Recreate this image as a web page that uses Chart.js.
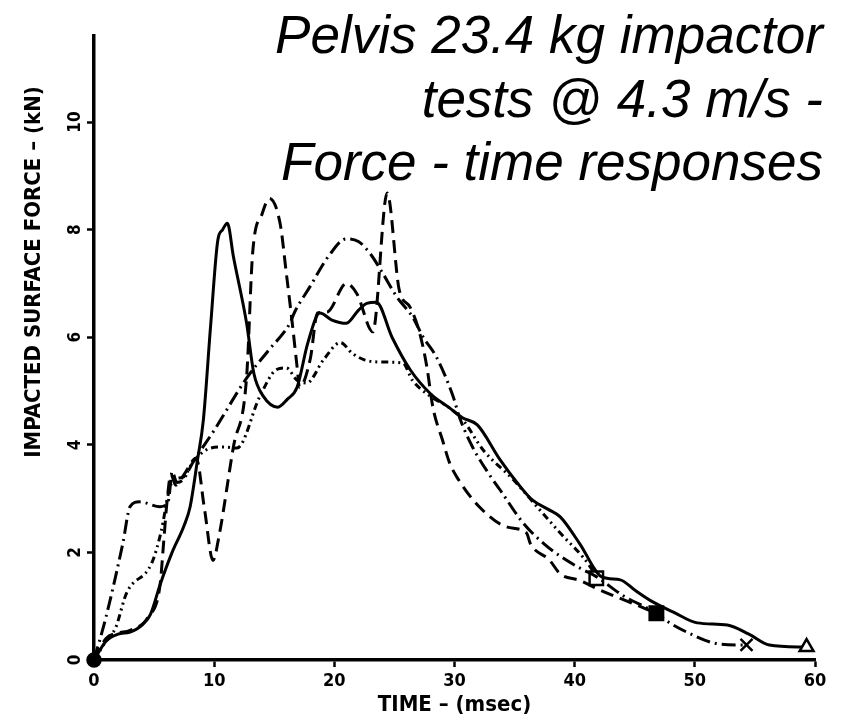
<!DOCTYPE html>
<html>
<head>
<meta charset="utf-8">
<script src="https://cdn.jsdelivr.net/npm/chart.js@4.4.1/dist/chart.umd.min.js"></script>
<style>
  html, body { margin: 0; padding: 0; background: #fff; }
  #wrap { position: relative; width: 841px; height: 720px; }
</style>
</head>
<body>
<div id="wrap"><canvas id="chart"></canvas></div>
<script>
// Force (kN) against time (msec) as [time, force]
const solidTest = [[0,0],[1,0.35],[2,0.48],[3,0.52],[4,0.65],[4.7,0.85],[5.5,1.4],[6.5,2.0],[7.5,2.5],[8,2.85],[8.6,3.7],[9.1,4.46],[9.7,6.2],[10.3,7.8],[10.7,8.0],[11.1,8.12],[11.6,7.5],[12.7,6.26],[13.3,5.33],[14.1,4.9],[15.3,4.7],[16.1,4.85],[16.9,5.07],[17.8,5.9],[18.8,6.45],[19.8,6.32],[21,6.26],[22,6.5],[22.7,6.63],[23.5,6.65],[24.8,6.0],[26.3,5.4],[28,4.95],[29.5,4.7],[30.7,4.5],[31.9,4.37],[33.8,3.72],[35.2,3.3],[36.5,2.97],[37.8,2.8],[38.8,2.66],[40.4,2.17],[42.3,1.54],[43.8,1.49],[45,1.3],[46.5,1.08],[48.3,0.88],[50.2,0.69],[52.7,0.65],[54.5,0.48],[56.2,0.28],[59.3,0.24]];
const dashTest = [[0,0],[1,0.4],[2,0.5],[3,0.55],[4.5,0.8],[5.5,1.4],[5.8,2.2],[6.1,3.0],[6.4,3.45],[6.8,3.25],[7.5,3.45],[8.5,3.75],[9.2,2.8],[9.9,1.85],[10.4,2.3],[11.6,3.96],[12.7,5.26],[13.2,7.56],[14,8.3],[14.6,8.58],[15.5,8.1],[16,7.2],[16.5,6.26],[16.9,5.45],[17.1,5.07],[18,5.6],[18.6,6.45],[19.4,6.47],[21,7.0],[21.9,6.8],[23.2,6.1],[24.4,8.68],[25.4,6.88],[26.3,6.56],[27.1,6.08],[27.7,5.45],[28.2,4.7],[29,4.09],[29.6,3.66],[30.2,3.4],[32.1,2.84],[34.4,2.47],[36,2.36],[36.3,2.17],[37.9,1.86],[38.8,1.6],[40.4,1.48],[42.1,1.3],[44.3,1.1],[46.8,0.87]];
const dashDotTest = [[0,0],[1,0.8],[2.4,2.17],[3,2.85],[3.8,2.94],[5.5,2.85],[6.2,2.97],[6.5,3.5],[6.9,3.3],[7.4,3.35],[8.3,3.7],[10,4.27],[12.7,5.24],[14.5,5.75],[16.3,6.26],[16.7,6.47],[18,6.95],[19.5,7.5],[21,7.83],[22,7.78],[23,7.55],[24,7.2],[25.2,6.75],[26.5,6.38],[27.4,6.0],[28.5,5.63],[29.9,4.89],[30.4,4.52],[31.5,3.96],[32.8,3.48],[33.8,3.16],[35.7,2.55],[37.5,2.15],[39,1.9],[40.5,1.7],[41.8,1.55],[44,1.2],[46.8,0.87],[47.9,0.69],[49.5,0.5],[51.5,0.32],[53.7,0.28],[54.3,0.28]];
const dottedTest = [[0,0],[1,0.35],[1.8,0.6],[2.7,1.24],[4.8,1.8],[5.6,2.4],[6.2,3.1],[6.6,3.35],[7.4,3.4],[8.3,3.7],[9.7,3.94],[10.8,3.96],[11.9,3.94],[13.8,4.9],[15.2,5.4],[16,5.43],[16.9,5.2],[17.7,5.15],[19.1,5.58],[20.5,5.9],[21.5,5.7],[22.5,5.58],[23.8,5.54],[25.7,5.52],[26.5,5.2],[28,4.9],[29.5,4.7],[30.7,4.46],[32.4,3.9],[34.9,3.35],[37.1,2.79],[38.8,2.36],[41.3,1.73],[41.8,1.52]];

const xTicks = [0, 10, 20, 30, 40, 50, 60];
const yTicks = [0, 2, 4, 6, 8, 10];

const titleLines = ['Pelvis 23.4 kg impactor', 'tests @ 4.3 m/s -', 'Force - time responses'];
const xTitle = 'TIME – (msec)';
const yTitle = 'IMPACTED SURFACE FORCE – (kN)';

const NARROW = '"Liberation Sans Narrow", "DejaVu Sans Condensed", "Liberation Sans", sans-serif';

// line look + end marker of each test
const styles = [
    { data: solidTest,   dash: [],                 marker: 'triangle', radius: 8,   fill: '#fff', start: true },
    { data: dashTest,    dash: [13, 7],            marker: 'rect',     radius: 9.5, fill: '#000' },
    { data: dashDotTest, dash: [14, 5, 2, 5],      marker: 'crossRot', radius: 8.5, fill: '#000' },
    { data: dottedTest,  dash: [7, 4, 2, 4, 2, 4], marker: 'rect',     radius: 9.5, fill: '#fff' },
];

const isLast = c => c.dataIndex === c.dataset.data.length - 1;

const datasets = styles.map(s => ({
    data: s.data.map(([x, y]) => ({ x, y })),
    borderColor: '#000',
    borderWidth: 3,
    borderDash: s.dash,
    fill: false,
    cubicInterpolationMode: 'monotone',
    clip: false,
    pointStyle: c => (s.start && c.dataIndex === 0) ? 'circle' : s.marker,
    pointRadius: c => isLast(c) ? s.radius : ((s.start && c.dataIndex === 0) ? 6.5 : 0),
    pointBackgroundColor: c => (s.start && c.dataIndex === 0) ? '#000' : s.fill,
    pointBorderColor: '#000',
    pointBorderWidth: 2.5,
}));

// big italic heading + rotated y title
const labelPlugin = {
    id: 'labels',
    afterDraw(chart) {
        const { ctx } = chart;
        ctx.save();
        ctx.fillStyle = '#000';
        ctx.font = 'italic 53px "Liberation Sans", Arial, sans-serif';
        ctx.textAlign = 'right';
        ctx.textBaseline = 'alphabetic';
        titleLines.forEach((line, i) => ctx.fillText(line, 823, 53 + i * 63.5));

        ctx.translate(34, 272);
        ctx.rotate(-Math.PI / 2);
        ctx.font = 'bold 22px ' + NARROW;
        ctx.textAlign = 'center';
        ctx.textBaseline = 'middle';
        ctx.fillText(yTitle, 0, 0);
        ctx.restore();
    }
};

const axisGrid = {
    display: true,
    drawOnChartArea: false,
    drawTicks: true,
    tickLength: 7,
    tickWidth: 2.5,
    color: '#000'
};

new Chart(document.getElementById('chart'), {
    type: 'line',
    data: { datasets },
    plugins: [labelPlugin],
    options: {
        responsive: true,
        maintainAspectRatio: false,
        animation: false,
        layout: { padding: { top: 36, right: 26, left: 0, bottom: 0 } },
        plugins: {
            legend: { display: false },
            tooltip: { enabled: false }
        },
        scales: {
            x: {
                type: 'linear',
                min: 0,
                max: 60,
                afterBuildTicks: s => { s.ticks = xTicks.map(v => ({ value: v })); },
                afterFit: s => { s.height = 60; },
                grid: axisGrid,
                border: { display: true, color: '#000', width: 3.5 },
                ticks: {
                    color: '#000',
                    font: { family: NARROW, size: 18, weight: 'bold' },
                    padding: 4,
                    maxRotation: 0,
                    autoSkip: false
                },
                title: {
                    display: true,
                    text: xTitle,
                    color: '#000',
                    font: { family: NARROW, size: 22, weight: 'bold' },
                    padding: { top: 0, bottom: 2 }
                }
            },
            y: {
                type: 'linear',
                min: 0,
                max: 11.6,
                afterBuildTicks: s => { s.ticks = yTicks.map(v => ({ value: v })); },
                afterFit: s => { s.width = 94; },
                grid: axisGrid,
                border: { display: true, color: '#000', width: 3.5 },
                ticks: {
                    color: '#000',
                    font: { family: NARROW, size: 17, weight: 'bold' },
                    minRotation: 90,
                    maxRotation: 90,
                    crossAlign: 'center',
                    padding: 1
                }
            }
        }
    }
});
</script>
</body>
</html>
